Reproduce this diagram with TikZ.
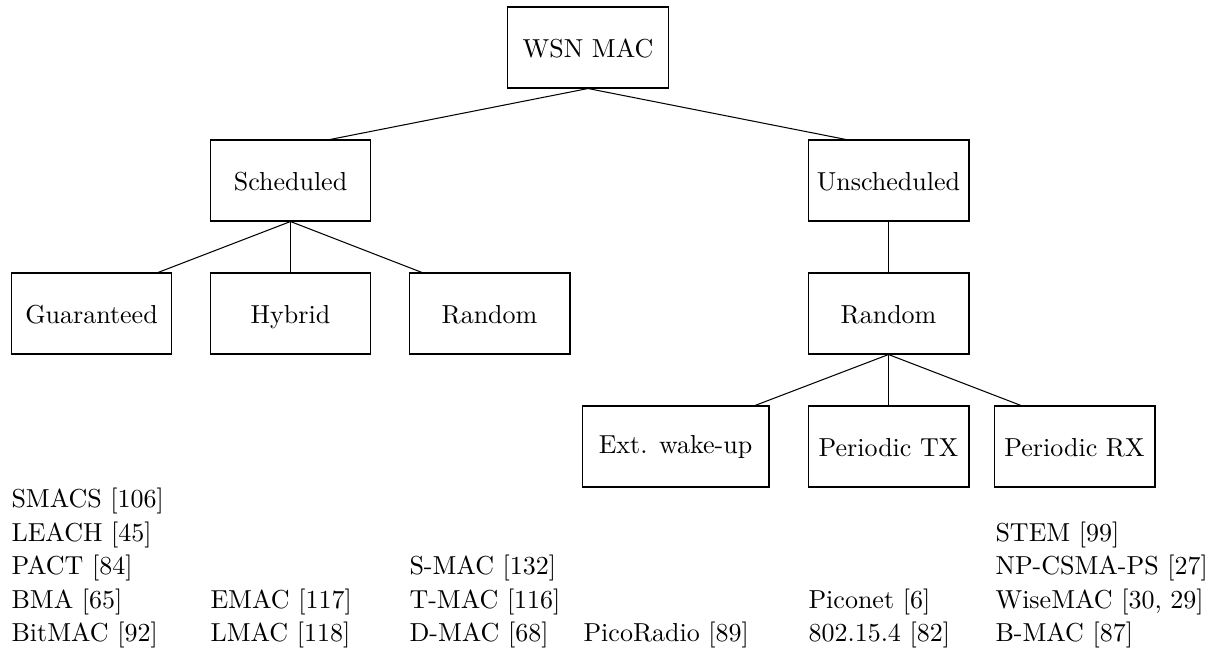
\documentclass[tikz,border=0pt]{standalone}
\usetikzlibrary{calc}
\begin{document}
\begin{tikzpicture}[
  x=0.384615pt, y=-0.384615pt,
  catbox/.style={draw, line width=0.4pt, inner sep=0pt,
    minimum width=61.9pt, minimum height=31.15pt,
    text height=7.7pt, text depth=0pt},
  widebox/.style={catbox, minimum width=71.9pt, text height=5.4pt},
  entry/.style={anchor=base west, inner sep=0pt},
  link/.style={draw, line width=0.4pt}
]
\useasboundingbox (0,0) rectangle (1216,654);

% taxonomy boxes
\node[catbox] (wsn)     at (588,47.5)    {WSN MAC};
\node[catbox] (sched)   at (290.5,180.5) {Scheduled};
\node[catbox] (unsched) at (888.5,180.5) {Unscheduled};
\node[catbox] (guar)    at (91.5,313.5)  {Guaranteed};
\node[catbox] (hyb)     at (290.5,313.5) {Hybrid};
\node[catbox] (randl)   at (489.5,313.5) {Random};
\node[catbox] (randr)   at (888.5,313.5) {Random};
\node[widebox] (ext)    at (675.5,446.5) {Ext. wake-up};
\node[catbox] (ptx)     at (888.5,446.5) {Periodic TX};
\node[catbox] (prx)     at (1074.5,446.5) {Periodic RX};

% tree edges
\path[link] (wsn.south) -- ($(sched.north)+(39.5,0)$);
\path[link] (wsn.south) -- ($(unsched.north)+(-42.5,0)$);
\path[link] (sched.south) -- ($(guar.north)+(66.5,0)$);
\path[link] (sched.south) -- (hyb.north);
\path[link] (sched.south) -- ($(randl.north)+(-67.5,0)$);
\path[link] (unsched.south) -- (randr.north);
\path[link] (randr.south) -- ($(ext.north)+(79.5,0)$);
\path[link] (randr.south) -- (ptx.north);
\path[link] (randr.south) -- ($(prx.north)+(-53.5,0)$);

% protocol lists under each class
\node[entry] (g1) at (11,507.5) {SMACS [106]};
\node[entry] (g2) at (11,541)   {LEACH [45]};
\node[entry] (g3) at (11,574.5) {PACT [84]};
\node[entry] (g4) at (11,608)   {BMA [65]};
\node[entry] (g5) at (11,641.5) {BitMAC [92]};

\node[entry] (h1) at (210,608)   {EMAC [117]};
\node[entry] (h2) at (210,641.5) {LMAC [118]};

\node[entry] (r1) at (409,574.5) {S-MAC [132]};
\node[entry] (r2) at (409,608)   {T-MAC [116]};
\node[entry] (r3) at (409,641.5) {D-MAC [68]};

\node[entry] (e1) at (583,641.5) {PicoRadio [89]};

\node[entry] (t1) at (808,608)   {Piconet [6]};
\node[entry] (t2) at (808,641.5) {802.15.4 [82]};

\node[entry] (x1) at (995,541)   {STEM [99]};
\node[entry] (x2) at (995,574.5) {NP-CSMA-PS [27]};
\node[entry] (x3) at (995,608)   {WiseMAC [30, 29]};
\node[entry] (x4) at (995,641.5) {B-MAC [87]};
\end{tikzpicture}
\end{document}
